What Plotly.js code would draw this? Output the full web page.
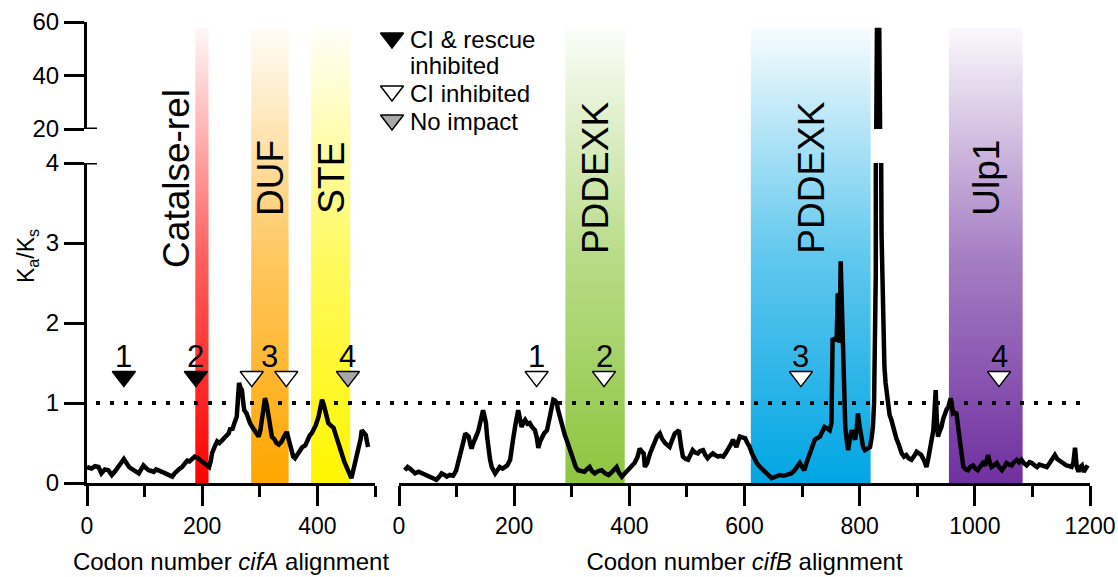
<!DOCTYPE html>
<html>
<head>
<meta charset="utf-8">
<script src="https://cdn.plot.ly/plotly-3.0.1.min.js"></script>
<style>
html,body{margin:0;padding:0;background:#fff;}
#chart{width:1118px;height:577px;}
</style>
</head>
<body>
<div id="chart"></div>
<script>
// ---------------- DATA ----------------
// cifA: sliding-window Ka/Ks along the cifA alignment
const cifA_codon = [
  0,8,14,20,25,31,37,43,49,55,
  60,64,68,73,77,81,86,90,94,98,
  102,107,112,116,120,125,130,136,142,148,
  152,157,161,165,170,174,178,183,187,191,
  196,200,206,212,215,217,222,226,230,234,
  238,243,246,249,252,255,258,260,262,264,
  266,269,271,273,277,280,283,287,292,295,
  298,301,303,306,309,312,314,318,321,325,
  329,333,338,342,347,350,355,358,361,365,
  370,374,379,383,387,390,393,397,402,405,
  408,411,414,417,419,423,428,431,434,438,
  443,447,452,456,459,462,466,469,472,475,
  477,480,484,486,488
];
const cifA_kaks = [
  0.20,0.18,0.21,0.20,0.12,0.17,0.16,0.10,0.15,0.20,
  0.26,0.30,0.25,0.20,0.18,0.16,0.13,0.12,0.17,0.22,
  0.19,0.16,0.15,0.14,0.17,0.16,0.14,0.12,0.10,0.08,
  0.12,0.16,0.18,0.20,0.24,0.28,0.27,0.30,0.33,0.32,
  0.29,0.27,0.24,0.20,0.28,0.37,0.46,0.52,0.50,0.53,
  0.55,0.58,0.62,0.69,0.66,0.73,0.80,0.83,1.05,1.25,
  1.20,1.16,1.02,0.91,0.87,0.80,0.75,0.70,0.64,0.62,
  0.58,0.66,0.79,0.95,1.06,0.98,0.87,0.70,0.58,0.55,
  0.50,0.48,0.52,0.58,0.64,0.55,0.37,0.33,0.31,0.36,
  0.41,0.45,0.47,0.55,0.60,0.62,0.66,0.72,0.83,0.95,
  1.04,0.98,0.91,0.82,0.75,0.72,0.69,0.62,0.54,0.45,
  0.35,0.26,0.16,0.10,0.06,0.15,0.28,0.35,0.41,0.55,
  0.66,0.64,0.60,0.52,0.45
];

// cifB: sliding-window Ka/Ks along the cifB alignment
const cifB_codon = [
  10,15,19,24,28,34,40,46,51,58,
  65,70,74,79,83,88,94,99,103,106,
  109,112,115,118,121,124,126,129,132,135,
  138,142,146,149,151,153,155,158,161,164,
  167,171,175,180,184,188,193,196,198,202,
  207,210,213,216,219,223,227,231,236,239,
  242,245,248,252,257,260,262,265,268,271,
  274,276,279,282,285,288,291,294,297,300,
  303,307,311,316,322,326,331,335,340,346,
  352,358,364,370,374,378,382,387,392,398,
  404,409,414,418,421,425,427,431,436,440,
  444,448,453,457,462,466,470,474,479,483,
  486,490,493,498,502,506,510,514,519,523,
  528,532,536,540,545,549,554,558,563,567,
  571,576,580,583,586,589,592,596,601,605,
  609,613,618,622,627,633,639,643,647,654,
  661,668,675,681,687,692,696,700,704,708,
  713,718,722,726,731,735,739,744,748,751,
  753,756,760,762,764,765,767,769,771,773,
  775,778,780,783,786,789,792,795,797,800,
  803,806,809,813,818,821,823,825,826,828,
  829,830,834,835,836,838,840,841,843,845,
  849,852,855,858,861,864,867,870,873,877,
  881,885,890,894,899,903,907,912,916,919,
  922,925,928,930,932,934,936,939,942,945,
  948,951,954,956,958,960,962,965,968,971,
  974,977,980,984,988,992,997,1001,1005,1009,
  1014,1018,1021,1023,1026,1029,1033,1038,1042,1047,
  1051,1055,1060,1064,1068,1073,1077,1081,1085,1090,
  1095,1099,1104,1108,1112,1116,1121,1125,1130,1134,
  1139,1143,1148,1153,1159,1164,1168,1171,1174,1177,
  1180,1183,1186,1189,1191,1194,1196
];
const cifB_kaks = [
  0.16,0.20,0.18,0.15,0.12,0.14,0.12,0.10,0.08,0.06,
  0.04,0.08,0.12,0.10,0.08,0.10,0.09,0.15,0.25,0.33,
  0.41,0.52,0.62,0.60,0.58,0.48,0.43,0.50,0.54,0.60,
  0.66,0.77,0.91,0.82,0.75,0.58,0.41,0.30,0.20,0.15,
  0.12,0.16,0.20,0.18,0.20,0.22,0.29,0.40,0.54,0.72,
  0.91,0.80,0.70,0.76,0.79,0.74,0.75,0.70,0.66,0.58,
  0.44,0.52,0.58,0.62,0.66,0.78,0.87,0.98,1.04,1.03,
  1.00,0.92,0.83,0.75,0.66,0.60,0.54,0.48,0.41,0.33,
  0.27,0.20,0.16,0.15,0.14,0.17,0.20,0.15,0.12,0.15,
  0.16,0.12,0.10,0.14,0.17,0.20,0.13,0.08,0.12,0.16,
  0.20,0.25,0.32,0.43,0.40,0.37,0.20,0.25,0.37,0.45,
  0.54,0.58,0.62,0.55,0.50,0.47,0.45,0.53,0.62,0.64,
  0.66,0.45,0.33,0.30,0.29,0.35,0.41,0.38,0.37,0.40,
  0.41,0.35,0.31,0.34,0.37,0.35,0.33,0.34,0.33,0.37,
  0.41,0.48,0.54,0.49,0.45,0.52,0.58,0.57,0.56,0.50,
  0.45,0.37,0.29,0.24,0.20,0.16,0.12,0.08,0.06,0.08,
  0.10,0.09,0.10,0.12,0.16,0.21,0.25,0.20,0.16,0.26,
  0.37,0.46,0.54,0.56,0.58,0.64,0.70,0.68,0.66,0.75,
  1.79,1.80,1.79,2.37,2.00,1.75,2.77,2.20,1.70,1.10,
  0.70,0.50,0.41,0.55,0.66,0.60,0.54,0.70,0.87,0.70,
  0.54,0.45,0.41,0.43,0.45,0.58,0.70,1.00,1.37,2.62,
  25,57,57,25,6,3.1,2.2,1.6,1.45,1.25,
  0.95,0.85,0.79,0.70,0.62,0.55,0.50,0.42,0.37,0.33,
  0.35,0.31,0.29,0.33,0.39,0.37,0.35,0.28,0.20,0.30,
  0.41,0.55,0.66,0.90,1.16,0.80,0.58,0.65,0.70,0.80,
  0.87,0.92,0.95,1.02,1.06,0.98,0.87,0.88,0.87,0.70,
  0.54,0.35,0.20,0.17,0.16,0.20,0.22,0.18,0.16,0.20,
  0.25,0.22,0.30,0.35,0.26,0.20,0.22,0.25,0.20,0.16,
  0.20,0.25,0.23,0.22,0.26,0.29,0.26,0.29,0.25,0.22,
  0.26,0.25,0.22,0.20,0.23,0.22,0.20,0.20,0.25,0.29,
  0.35,0.30,0.27,0.24,0.22,0.21,0.20,0.25,0.44,0.20,
  0.14,0.20,0.22,0.14,0.16,0.20,0.22
];

// Annotated protein domains
const domainName  = ['Catalse-rel', 'DUF', 'STE', 'PDDEXK', 'PDDEXK', 'Ulp1'];
const domainGene  = ['cifA', 'cifA', 'cifA', 'cifB', 'cifB', 'cifB'];
const domainStart = [188, 285, 389, 289, 611, 955];
const domainEnd   = [211, 350, 457, 392, 819, 1083];

// Mutated sites and their phenotypes
const cifA_mutCodon  = [64, 189, 286, 346, 453];
const cifA_mutEffect = ['CI & rescue inhibited', 'CI & rescue inhibited', 'CI inhibited', 'CI inhibited', 'No impact'];
const cifA_siteLabel = ['1', '2', '3', '4'];
const cifA_siteCodon = [63, 189, 316, 453];

const cifB_mutCodon  = [239, 356, 698, 1042];
const cifB_mutEffect = ['CI inhibited', 'CI inhibited', 'CI inhibited', 'CI inhibited'];
const cifB_siteLabel = ['1', '2', '3', '4'];
const cifB_siteCodon = [239, 356, 698, 1042];

const effectNames  = ['CI & rescue inhibited', 'CI inhibited', 'No impact'];
const effectLegend = ['CI & rescue<br>inhibited', 'CI inhibited', 'No impact'];

// ---------------- STYLE / GEOMETRY ----------------
const FONT = 'Liberation Sans, Arial, Helvetica, sans-serif';
const W = 1118, H = 577;
const M = {l: 87, r: 28, t: 22, b: 94};
const PW = W - M.l - M.r, PH = H - M.t - M.b;
const fx = px => (px - M.l) / PW;
const fy = py => (H - M.b - py) / PH;

const leftDom  = [0, fx(375)];
const rightDom = [fx(399), 1];
const lowDom   = [0, fy(163)];
const upDom    = [fy(129), 1];

const domainRGB = ['255,0,0', '255,166,0', '255,246,0', '141,198,63', '0,166,228', '112,48,160'];
const domainShift = [-26, 0, 0, 0, 0, 0];
const effectFill = {'CI & rescue inhibited': '#000000', 'CI inhibited': '#ffffff', 'No impact': '#a8a8a8'};
const MARK_Y = 1.33, SITE_Y = 1.58, BAND_TOP = 0.987;

// ---------------- TRACES ----------------
const traces = [];

domainName.forEach((name, i) => {
  const xa = domainGene[i] === 'cifA' ? 'x' : 'x2';
  const c = domainRGB[i];
  traces.push({
    type: 'scatter', mode: 'lines', xaxis: xa, yaxis: 'y',
    x: [domainStart[i], domainEnd[i], domainEnd[i], domainStart[i], domainStart[i]],
    y: [0, 0, BAND_TOP, BAND_TOP, 0],
    fill: 'toself', line: {width: 0},
    fillgradient: {type: 'vertical', colorscale: [
      [0, 'rgba(' + c + ',1)'], [0.5, 'rgba(' + c + ',0.62)'], [1, 'rgba(' + c + ',0.03)']
    ]},
    hoverinfo: 'skip', showlegend: false
  });
});

const lineStyle = {color: '#000', width: 4.5};
traces.push({type: 'scatter', mode: 'lines', x: cifA_codon, y: cifA_kaks, xaxis: 'x3', yaxis: 'y2', line: lineStyle, name: 'cifA', showlegend: false});
traces.push({type: 'scatter', mode: 'lines', x: cifA_codon, y: cifA_kaks, xaxis: 'x3', yaxis: 'y3', line: lineStyle, name: 'cifA', showlegend: false});
traces.push({type: 'scatter', mode: 'lines', x: cifB_codon, y: cifB_kaks, xaxis: 'x4', yaxis: 'y2', line: lineStyle, name: 'cifB', showlegend: false});
traces.push({type: 'scatter', mode: 'lines', x: cifB_codon, y: cifB_kaks, xaxis: 'x4', yaxis: 'y3', line: lineStyle, name: 'cifB', showlegend: false});

function markerTrace(codons, effects, xa) {
  return {
    type: 'scatter', mode: 'markers', xaxis: xa, yaxis: 'y2', cliponaxis: false,
    x: codons, y: codons.map(() => MARK_Y),
    marker: {symbol: 'triangle-down', size: 20, color: effects.map(e => effectFill[e]),
             line: {color: '#000', width: 1.5}},
    showlegend: false, hoverinfo: 'skip'
  };
}
traces.push(markerTrace(cifA_mutCodon, cifA_mutEffect, 'x3'));
traces.push(markerTrace(cifB_mutCodon, cifB_mutEffect, 'x4'));

// legend symbols (on a hidden paper-spanning axis pair)
const legendSymY = [fy(38), fy(91), fy(120)];
traces.push({
  type: 'scatter', mode: 'markers', xaxis: 'x5', yaxis: 'y', cliponaxis: false,
  x: effectNames.map(() => fx(392)), y: legendSymY,
  marker: {symbol: 'triangle-down', size: 20, color: effectNames.map(e => effectFill[e]),
           line: {color: '#000', width: 1.5}},
  showlegend: false, hoverinfo: 'skip'
});

// ---------------- ANNOTATIONS ----------------
const annotations = [];
domainName.forEach((name, i) => {
  annotations.push({
    text: name, xref: domainGene[i] === 'cifA' ? 'x3' : 'x4', yref: 'paper',
    x: (domainStart[i] + domainEnd[i]) / 2, xshift: domainShift[i], y: fy(178),
    textangle: -90, showarrow: false, xanchor: 'center', yanchor: 'middle',
    font: {family: FONT, size: 37, color: '#000'}
  });
});
cifA_siteLabel.forEach((t, i) => annotations.push({
  text: t, xref: 'x3', yref: 'y2', x: cifA_siteCodon[i], y: SITE_Y, showarrow: false,
  font: {family: FONT, size: 31, color: '#000'}
}));
cifB_siteLabel.forEach((t, i) => annotations.push({
  text: t, xref: 'x4', yref: 'y2', x: cifB_siteCodon[i], y: SITE_Y, showarrow: false,
  font: {family: FONT, size: 31, color: '#000'}
}));
const legendTextY = [[fy(39.5), fy(65)], [fy(93.5)], [fy(121.5)]];
effectLegend.forEach((t, i) => {
  t.split('<br>').forEach((line, j) => annotations.push({
    text: line, xref: 'paper', yref: 'paper', x: fx(408), y: legendTextY[i][j],
    xanchor: 'left', yanchor: 'middle', showarrow: false,
    font: {family: FONT, size: 24, color: '#000'}
  }));
});
annotations.push({
  text: 'K<sub>a</sub>/K<sub>s</sub>', xref: 'paper', yref: 'paper', x: fx(27), y: fy(256),
  textangle: -90, showarrow: false, xanchor: 'center', yanchor: 'middle',
  font: {family: FONT, size: 23, color: '#000'}
});

// ---------------- LAYOUT ----------------
const axFont = {family: FONT, size: 23, color: '#000'};
function xAxisVis(dom, range, title) {
  return {
    domain: dom, range: range, anchor: 'y2', showline: true, linewidth: 3, linecolor: '#000',
    ticks: 'outside', ticklen: 20, tickwidth: 3, tickcolor: '#000', tick0: 0, dtick: 200,
    minor: {ticks: 'outside', ticklen: 11, tickwidth: 3, tickcolor: '#000', tick0: 0, dtick: 100, showgrid: false},
    showgrid: false, zeroline: false, tickfont: axFont, fixedrange: true,
    title: {text: title, font: {family: FONT, size: 24, color: '#000'}, standoff: 16}
  };
}
function yAxisVis(dom, range, vals) {
  return {
    domain: dom, range: range, anchor: 'x3', showline: true, linewidth: 3, linecolor: '#000',
    ticks: 'outside', ticklen: 20, tickwidth: 3, tickcolor: '#000', tickvals: vals,
    showgrid: false, zeroline: false, tickfont: {family: FONT, size: 24, color: '#000'}, fixedrange: true
  };
}
const hidden = (dom, range, anchor) => ({domain: dom, range: range, anchor: anchor, visible: false, fixedrange: true});

const layout = {
  width: W, height: H, margin: M, showlegend: false,
  paper_bgcolor: '#ffffff', plot_bgcolor: 'rgba(0,0,0,0)',
  font: {family: FONT, color: '#000'},
  xaxis: hidden(leftDom, [0, 500], 'y'),
  xaxis2: hidden(rightDom, [0, 1200], 'y'),
  yaxis: hidden([0, 1], [0, 1], 'x'),
  xaxis5: hidden([0, 1], [0, 1], 'y'),
  xaxis3: xAxisVis(leftDom, [0, 500], 'Codon number <i>cifA</i> alignment'),
  xaxis4: xAxisVis(rightDom, [0, 1200], 'Codon number <i>cifB</i> alignment'),
  yaxis2: yAxisVis(lowDom, [0, 4], [0, 1, 2, 3, 4]),
  yaxis3: yAxisVis(upDom, [20, 60], [20, 40, 60]),
  annotations: annotations,
  shapes: [
    {type: 'line', xref: 'paper', yref: 'y2', x0: fx(96), x1: 1, y0: 1, y1: 1,
     line: {color: '#000', width: 4, dash: '4px,10px'}},
    {type: 'line', xref: 'paper', yref: 'y2', x0: 0, x1: fx(97), y0: 4, y1: 4,
     line: {color: '#000', width: 3}},
    {type: 'line', xref: 'paper', yref: 'y3', x0: 0, x1: fx(97), y0: 20, y1: 20,
     line: {color: '#000', width: 3}}
  ],
  hovermode: false
};

Plotly.newPlot('chart', traces, layout, {staticPlot: true, displayModeBar: false}).then(gd => {
  // drop the empty placeholder title texts Plotly keeps for untitled / hidden axes
  gd.querySelectorAll('text').forEach(t => { if (!t.textContent.trim()) t.remove(); });
});
</script>
</body>
</html>
